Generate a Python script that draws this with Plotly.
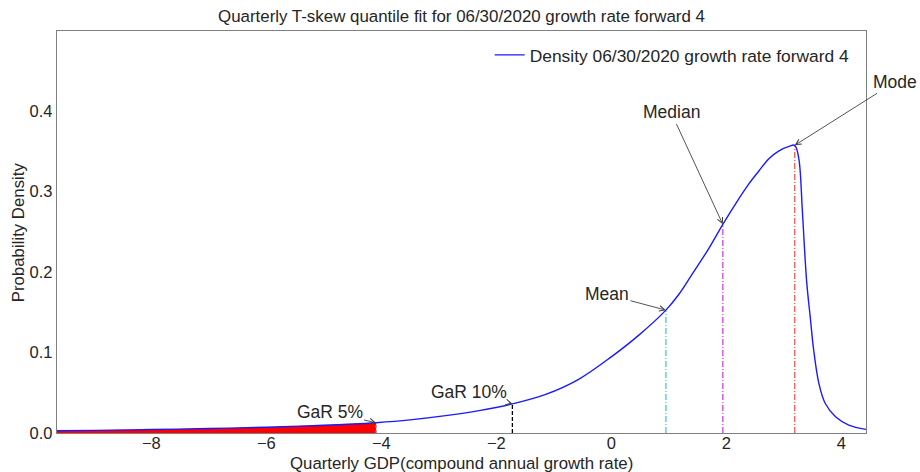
import plotly.graph_objects as go

# Fitted skew-t density for 06/30/2020, growth rate 4 quarters ahead
gdp_growth = [-9.64, -9.0, -8.0, -7.0, -6.0, -5.42, -5.0, -4.5, -4.09, -3.5,
              -2.88, -2.30, -1.72, -1.14, -0.56, 0.0, 0.48, 0.95, 1.18, 1.41,
              1.70, 1.94, 2.22, 2.39, 2.57, 2.74, 2.91, 3.09, 3.19, 3.26,
              3.32, 3.35, 3.40, 3.46, 3.52, 3.61, 3.72, 3.90, 4.13, 4.43]
density = [0.0028, 0.0033, 0.0043, 0.0056, 0.0072, 0.0085, 0.0096, 0.0111, 0.0128, 0.0163,
           0.0215, 0.0278, 0.0362, 0.0480, 0.0670, 0.0945, 0.1215, 0.1525, 0.1725, 0.1975,
           0.2295, 0.2590, 0.2910, 0.3090, 0.3255, 0.3405, 0.3500, 0.3558, 0.3571, 0.3413,
           0.2800, 0.2420, 0.1860, 0.1440, 0.1030, 0.0617, 0.0369, 0.0202, 0.0099, 0.0045]

# Key statistics of the distribution
stat_names = ["GaR 5%", "GaR 10%", "Mean", "Median", "Mode"]
stat_values = [-4.09, -1.72, 0.95, 1.94, 3.19]
stat_colors = ["#8c8c8c", "#000000", "#3fcfcf", "#cc44dd", "#ff5a5a"]
stat_dashes = ["3px,2px", "4px,2px", "6px,2px,1px,2px", "6px,2px,1px,2px", "6px,2px,1px,2px"]
# label centre positions (x, y) for the arrow annotations
label_x = [-4.90, -2.47, -0.075, 1.04, 4.94]
label_y = [0.0257, 0.0513, 0.172, 0.398, 0.436]

title = "Quarterly T-skew quantile fit for 06/30/2020 growth rate forward 4"
legend_name = "Density 06/30/2020 growth rate forward 4"
x_title = "Quarterly GDP(compound annual growth rate)"
y_title = "Probability Density"

dens_at = dict(zip(gdp_growth, density))
gar5 = stat_values[0]

fig = go.Figure()

# shaded left tail up to GaR 5%
tail_x = [g for g in gdp_growth if g <= gar5]
tail_y = [dens_at[g] for g in tail_x]
fig.add_trace(go.Scatter(x=tail_x, y=tail_y, mode="lines", line=dict(width=0, color="red"),
                         fill="tozeroy", fillcolor="red", showlegend=False, hoverinfo="skip"))

# vertical markers for each statistic
for name, val, col, dash in zip(stat_names, stat_values, stat_colors, stat_dashes):
    fig.add_trace(go.Scatter(x=[val, val], y=[0, dens_at[val]], mode="lines",
                             line=dict(color=col, width=1.3, dash=dash),
                             showlegend=False, hoverinfo="skip"))

fig.add_trace(go.Scatter(x=gdp_growth, y=density, mode="lines", name=legend_name,
                         line=dict(color="#1a1aff", width=1.4, shape="spline", smoothing=1.0)))

for name, val, lx, ly in zip(stat_names, stat_values, label_x, label_y):
    fig.add_annotation(x=val, y=dens_at[val], ax=lx, ay=ly, axref="x", ayref="y",
                       xref="x", yref="y", text=name, showarrow=True,
                       arrowhead=5, arrowsize=1.2, arrowwidth=0.9, arrowcolor="#404040",
                       font=dict(size=17.5, color="#262626"))

font_family = "Liberation Sans, Arial, sans-serif"
tick_font = dict(family=font_family, size=16.5, color="#262626")
label_font = dict(family=font_family, size=16.8, color="#262626")

# axis titles
fig.add_annotation(text=x_title, xref="paper", yref="paper", x=0.5, y=-0.1015,
                   xanchor="center", yanchor="bottom", showarrow=False, borderpad=0,
                   font=label_font)
fig.add_annotation(text=y_title, xref="paper", yref="paper", x=-0.048, y=0.5,
                   xanchor="center", yanchor="middle", textangle=-90, showarrow=False,
                   borderpad=0, font=label_font)

fig.update_layout(
    width=920, height=472,
    margin=dict(l=57, r=54, t=31, b=39),
    paper_bgcolor="white", plot_bgcolor="white",
    font=dict(family=font_family, size=17, color="#262626"),
    title=dict(text=title, x=0.5, xref="paper", xanchor="center", y=0.966, yanchor="middle",
               font=dict(size=16.9, color="#262626")),
    legend=dict(x=0.986, xanchor="right", y=0.985, yanchor="top", bgcolor="rgba(0,0,0,0)",
                font=dict(size=17.4, color="#262626")),
)
fig.update_xaxes(range=[-9.64, 4.43], tickvals=[-8, -6, -4, -2, 0, 2, 4], showgrid=False,
                 zeroline=False, showline=True, mirror=True, linecolor="#808080", linewidth=1.3,
                 ticks="", tickfont=tick_font, automargin=False, ticklabelstandoff=-5)
fig.update_yaxes(range=[0, 0.499], tickvals=[0, 0.1, 0.2, 0.3, 0.4], tickformat=".1f",
                 showgrid=False, zeroline=False, showline=True, mirror=True, linecolor="#808080",
                 linewidth=1.3, ticks="", tickfont=tick_font, automargin=False)

fig.write_html("out.html")
